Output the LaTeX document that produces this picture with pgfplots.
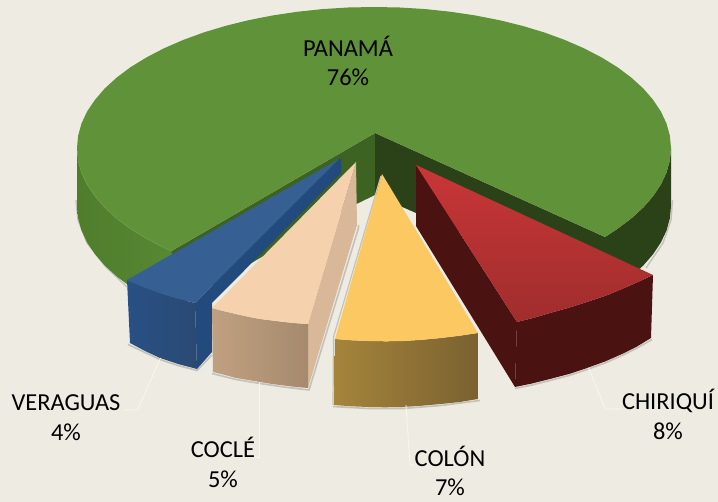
\documentclass[border=0pt]{standalone}
\usepackage{fontspec}
\setmainfont{Carlito}
\usepackage{pgfplots}
\pgfplotsset{compat=1.18}
\definecolor{bg}{HTML}{EEECE2}
\definecolor{gtop}{HTML}{60923A}
\definecolor{gedge}{HTML}{6C9C42}
\definecolor{gwallA}{HTML}{4F7D2C}
\definecolor{gwallB}{HTML}{578833}
\definecolor{gin}{HTML}{3D6322}
\definecolor{gdark}{HTML}{2B4219}
\definecolor{shad}{HTML}{C4C2B8}
\definecolor{btop}{HTML}{365F93}
\definecolor{bside}{HTML}{234A7D}
\definecolor{bfrontA}{HTML}{285084}
\definecolor{bfrontB}{HTML}{2A4A73}
\definecolor{ptop}{HTML}{F6D1AD}
\definecolor{pside}{HTML}{D8B898}
\definecolor{pfrontA}{HTML}{C0A080}
\definecolor{pfrontB}{HTML}{A68A6E}
\definecolor{ytop}{HTML}{FCC862}
\definecolor{yfrontA}{HTML}{A5853B}
\definecolor{yfrontB}{HTML}{7A6130}
\definecolor{rtopA}{HTML}{C93638}
\definecolor{rtopB}{HTML}{A02D2C}
\definecolor{rwall}{HTML}{4A1210}
\definecolor{leader}{HTML}{F7F6F0}
\tikzset{lab/.style={font=\fontsize{24.4}{28}\selectfont, anchor=center, text=black}}
\begin{document}
\begin{tikzpicture}
\begin{axis}[
  hide axis, scale only axis, width=718pt, height=502pt,
  xmin=0, xmax=718, ymin=0, ymax=502, y dir=reverse,
  clip=true, every axis plot/.append style={no markers}]
% background
\addplot[fill=bg, draw=none] coordinates {(0,0)(718,0)(718,502)(0,502)} --cycle;
% Panama shadow
\addplot[draw=shad, line width=1.4pt] coordinates {(76,200)(78,220)(87,243)(105,266)(127,287)};
\addplot[draw=shad, line width=1.4pt] coordinates {(672.5,200)(671,220)(663,243)(646,268)};
% Panama walls
\addplot[draw=none, left color=gwallA, right color=gwallB] coordinates {(77,148)(78.1,160.3)(81.5,172.5)(87.1,184.5)(95,196.2)(104.8,207.6)(116.8,218.5)(130.7,228.9)(146.5,238.6)(164,247.7)(171.5,251)(171.5,309)(164,305.7)(146.5,296.6)(130.7,286.9)(116.8,276.5)(104.8,265.6)(95,254.2)(87.1,242.5)(81.5,230.5)(78.1,218.3)(77,206)} --cycle;
\addplot[draw=none, fill=gdark] coordinates {(671,148)(669.9,160.3)(666.5,172.5)(660.9,184.5)(653.1,196.2)(643.2,207.6)(631.2,218.5)(617.3,228.9)(605,237)(605,295)(617.3,286.9)(631.2,276.5)(643.2,265.6)(653.1,254.2)(660.9,242.5)(666.5,230.5)(669.9,218.3)(671,206)} --cycle;
\addplot[draw=none, fill=gin] coordinates {(375,133)(375,195)(340,212)(171.5,309)(171.5,251)} --cycle;
\addplot[draw=none, fill=gdark] coordinates {(375,133)(375,195)(605,296)(605,237)} --cycle;
% Panama top
\addplot[draw=none, fill=gtop] coordinates {(375,133)(605,237)(617.3,228.9)(631.2,218.5)(643.2,207.6)(653.1,196.2)(660.9,184.5)(666.5,172.5)(669.9,160.3)(671,148)(669.9,135.7)(666.5,123.5)(660.9,111.5)(653.1,99.8)(643.2,88.4)(631.2,77.5)(617.3,67.1)(601.5,57.4)(584,48.3)(564.9,40)(544.4,32.5)(522.5,25.9)(499.5,20.2)(475.6,15.5)(450.9,11.8)(425.6,9.1)(399.9,7.5)(374,7)(348.1,7.5)(322.4,9.1)(297.1,11.8)(272.4,15.5)(248.5,20.2)(225.5,25.9)(203.6,32.5)(183.1,40)(164,48.3)(146.5,57.4)(130.7,67.1)(116.8,77.5)(104.8,88.4)(95,99.8)(87.1,111.5)(81.5,123.5)(78.1,135.7)(77,148)(78.1,160.3)(81.5,172.5)(87.1,184.5)(95,196.2)(104.8,207.6)(116.8,218.5)(130.7,228.9)(146.5,238.6)(164,247.7)(171.5,251)} --cycle;
\addplot[draw=gedge, line width=0.7pt] coordinates {(78.1,160.3)(81.5,172.5)(87.1,184.5)(95,196.2)(104.8,207.6)(116.8,218.5)(130.7,228.9)(146.5,238.6)(164,247.7)(171.5,251)};
% Veraguas
\addplot[draw=shad, line width=1.6pt] coordinates {(128,344.5)(145,352.5)(160,359.5)(178,365.5)(197,370.5)(212,355)};
\addplot[draw=none, fill=bside] coordinates {(339,159)(341,159)(341,173)(212,303)(212,352)(197,369)(195,303)} --cycle;
\addplot[draw=none, left color=bfrontA, right color=bfrontB] coordinates {(127,280)(143,287)(160,293)(177,298.5)(195,303)(197,369)(178,364)(160,358)(145,351)(130,343)} --cycle;
\addplot[draw=none, fill=btop] coordinates {(339,159)(127,280)(143,287)(160,293)(177,298.5)(195,303)} --cycle;
% Cocle
\addplot[draw=shad, line width=1.6pt] coordinates {(212,373.5)(236,379.5)(260,383.5)(284,387)(309,390)(358.5,228)(358.5,225)};
\addplot[draw=none, fill=pside] coordinates {(356,162)(357,225)(308,388)(308,324)} --cycle;
\addplot[draw=none, left color=pfrontA, right color=pfrontB] coordinates {(212,308)(224,311.2)(236,314)(248,316.7)(260,319)(272,320.5)(284,322)(296,323.2)(308,324)(308,388)(296,387)(284,385.5)(272,384)(260,382)(248,380)(236,378)(225,375)(213,372)} --cycle;
\addplot[draw=none, fill=ptop] coordinates {(356,162)(212,308)(224,311.2)(236,314)(248,316.7)(260,319)(272,320.5)(284,322)(296,323.2)(308,324)} --cycle;
% Colon
\addplot[draw=shad, line width=1.6pt] coordinates {(333,406.5)(368,408.5)(403,408.5)(441,405.5)(480,400.5)};
\addplot[draw=shad, line width=1.2pt] coordinates {(381,176)(333.5,337)(333,405)};
\addplot[draw=none, left color=yfrontA, right color=yfrontB] coordinates {(335,339)(352,340.3)(369,341)(386,341.3)(403,341)(422,339.8)(441,338)(460,335.7)(478,333)(478,399)(460,402)(441,404)(422,405.7)(403,407)(385,407.3)(368,407)(351,406.3)(334,405)} --cycle;
\addplot[draw=none, fill=ytop] coordinates {(382,174)(335,339)(352,340.3)(369,341)(386,341.3)(403,341)(422,339.8)(441,338)(460,335.7)(478,333)} --cycle;
% Chiriqui
\addplot[draw=shad, line width=1.6pt] coordinates {(515,388.5)(532,385)(550,380.5)(569,375.5)(587,369.5)(605,363)(622,355.5)(637,348)(652,339.5)};
\addplot[draw=none, fill=rwall] coordinates {(416,165)(416,226)(515,387)(517,322)} --cycle;
\addplot[draw=none, fill=rwall] coordinates {(517,322)(533,318)(550,313)(568,308)(587,302)(605,296)(622,289)(638,282)(653,275)(651,338)(637,346.5)(622,354)(605,361.5)(587,368)(569,374)(550,379)(532,383.5)(515,387)} --cycle;
\addplot[draw=none, top color=rtopA, bottom color=rtopB] coordinates {(416,165)(653,275)(638,282)(622,289)(605,296)(587,302)(568,308)(550,313)(533,318)(517,322)} --cycle;
% leaders
\addplot[draw=leader, line width=0.8pt] coordinates {(160.5,358)(137.6,410)(125,410)};
\addplot[draw=leader, line width=0.8pt] coordinates {(259,383)(259,457)(255,457)};
\addplot[draw=leader, line width=0.8pt] coordinates {(406,405)(410,465)(415,465)};
\addplot[draw=leader, line width=0.8pt] coordinates {(588.5,368)(605.5,409)(621.5,409)};
% labels
\node[lab] at (axis cs:348,46.5) {PANAMÁ};
\node[lab] at (axis cs:348,77.5) {76\%};
\node[lab] at (axis cs:66,402.5) {VERAGUAS};
\node[lab] at (axis cs:66,432) {4\%};
\node[lab] at (axis cs:223,447.5) {COCLÉ};
\node[lab] at (axis cs:223,479) {5\%};
\node[lab] at (axis cs:450,456.5) {COLÓN};
\node[lab] at (axis cs:450,487) {7\%};
\node[lab] at (axis cs:668,400.5) {CHIRIQUÍ};
\node[lab] at (axis cs:668,431) {8\%};
\end{axis}
\end{tikzpicture}
\end{document}
